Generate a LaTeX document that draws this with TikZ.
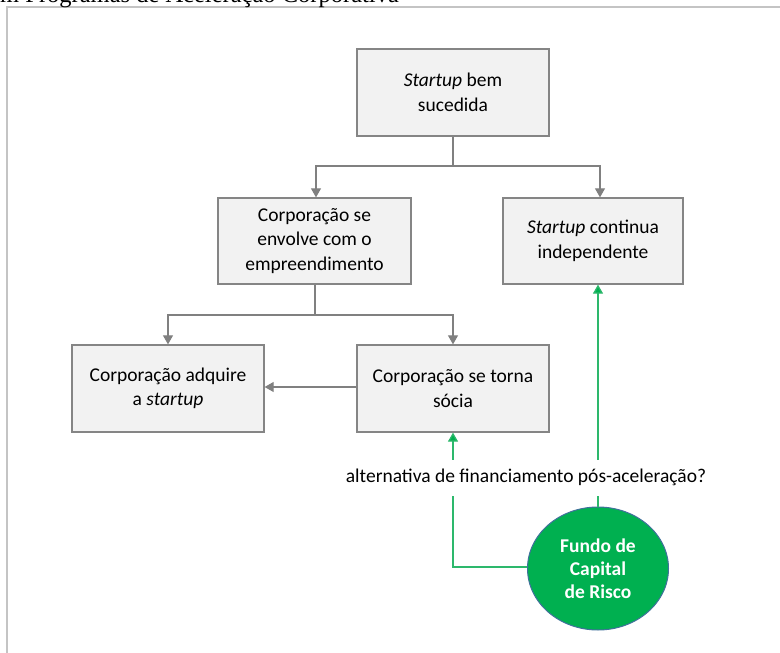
\documentclass[tikz,border=0pt]{standalone}
\usepackage{fontspec}
\setmainfont{Carlito}
\newfontfamily\headserif{Liberation Serif}
\usetikzlibrary{arrows.meta,shapes.geometric}

\definecolor{framegray}{HTML}{C4C4C4}
\definecolor{boxfill}{HTML}{F2F2F2}
\definecolor{boxline}{HTML}{858585}
\definecolor{flowgray}{HTML}{808080}
\definecolor{fundgreen}{HTML}{00B050}
\definecolor{linkgreen}{HTML}{2DB86C}
\definecolor{fundedge}{HTML}{41719C}

\tikzset{
  stagebox/.style={draw=boxline, fill=boxfill, line width=1.3pt,
    minimum width=192pt, minimum height=87pt, inner sep=0pt,
    align=center, font=\fontsize{19.5}{24.5}\selectfont},
  flow/.style={draw=flowgray, line width=1.1pt},
  flowarrow/.style={flow, -{Triangle[width=10pt,length=9pt]}},
  greenlink/.style={draw=linkgreen, line width=1.3pt},
  greenarrow/.style={greenlink, -{Triangle[width=10pt,length=9pt,fill=fundgreen]}},
}

\begin{document}
\begin{tikzpicture}[x=1pt,y=-1pt]
\useasboundingbox (0,0) rectangle (780,653);

% page frame and running title
\draw[framegray, line width=2pt] (7,653) -- (7,7) -- (780,7);
\node[anchor=base west, inner sep=0pt, font=\headserif\fontsize{24.5}{28}\selectfont]
  (title) at (0,2.5) {m Programas de Aceleração Corporativa};

% stages
\node[stagebox] (ok) at (453,92.5) {\textit{Startup} bem\\sucedida};
\node[stagebox, minimum width=193pt, minimum height=86pt] (envolve) at (314.5,241)
  {Corporação se\\envolve com o\\empreendimento};
\node[stagebox, minimum width=180pt, minimum height=86pt] (indep) at (593,241)
  {\textit{Startup} continua\\independente};
\node[stagebox] (adquire) at (168,388.5) {Corporação adquire\\a \textit{startup}};
\node[stagebox] (socia) at (453,388.5) {Corporação se torna\\sócia};

% venture capital fund
\node[ellipse, fill=fundgreen, draw=fundedge, line width=1pt,
  minimum width=141pt, minimum height=123pt, inner sep=0pt,
  align=center, text=white, font=\bfseries\fontsize{19.5}{23}\selectfont]
  (fund) at (598,568.5) {Fundo de\\Capital\\de Risco};

% decision tree
\coordinate (split1) at (453,166);
\coordinate (split2) at (315,315);
\draw[flow] (ok.south) -- (split1);
\draw[flowarrow] (split1) -| ([xshift=1.5pt]envolve.north);
\draw[flowarrow] (split1) -| ([xshift=7pt]indep.north);
\draw[flow] (envolve.south -| split2) -- (split2);
\draw[flowarrow] (split2) -| (adquire.north);
\draw[flowarrow] (split2) -| (socia.north);
\draw[flowarrow] ([yshift=1.5pt]socia.west) -- ([yshift=1.5pt]adquire.east);

% funding links
\draw[greenarrow] (fund.north) -- (fund.north |- indep.south);
\draw[greenarrow] ([yshift=1.5pt]fund.west) -| (socia.south);

% question label over the funding links
\node[fill=white, inner xsep=0pt, minimum height=36pt,
  font=\fontsize{19.5}{24}\selectfont] (question) at (526,477.5)
  {alternativa de financiamento pós-aceleração?};
\end{tikzpicture}
\end{document}
